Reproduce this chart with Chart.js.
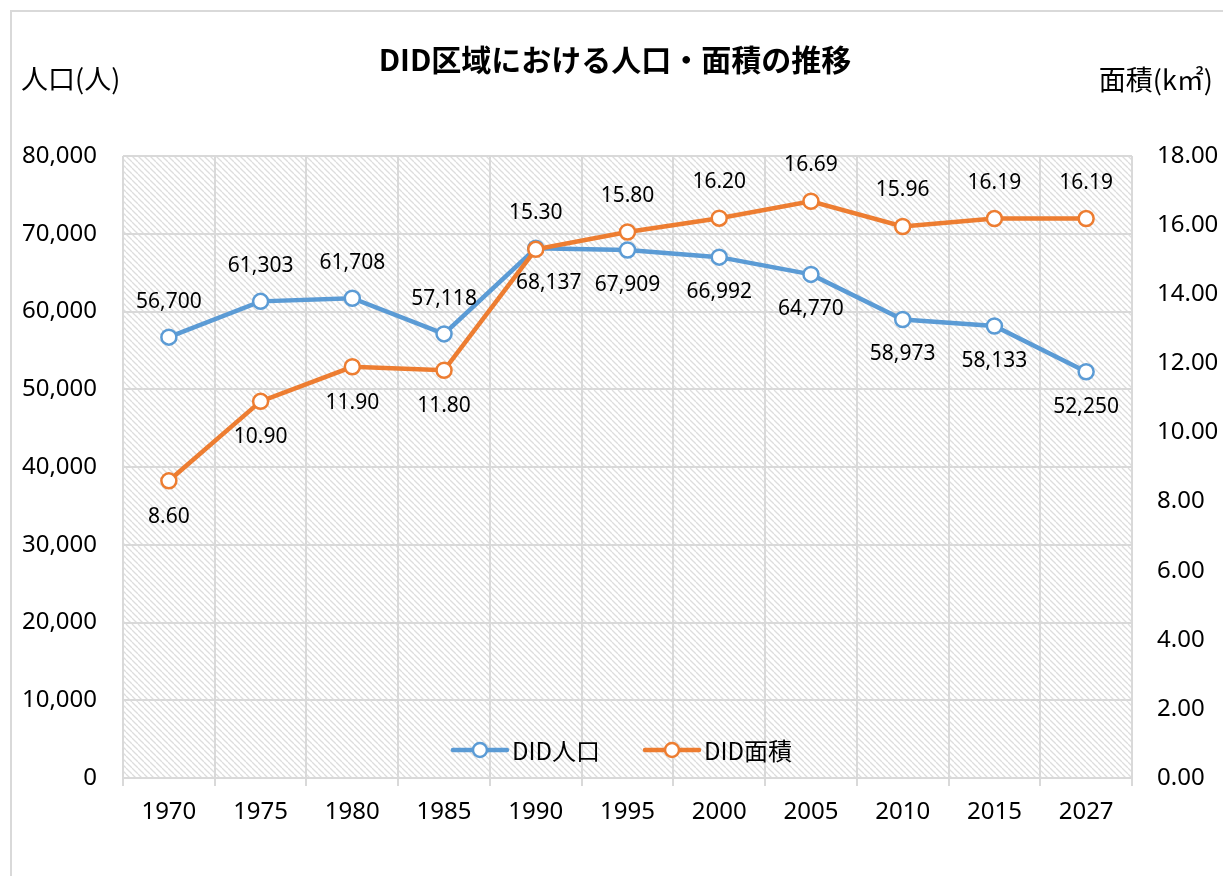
<!DOCTYPE html>
<html>
<head>
<meta charset="utf-8">
<script src="https://cdn.jsdelivr.net/npm/chart.js@4.4.1/dist/chart.umd.min.js"></script>
<style>
  html, body { margin: 0; padding: 0; background: #fff; }
  #wrap { position: relative; width: 1223px; height: 876px; }
</style>
</head>
<body>
<div id="wrap"><canvas id="c" width="1223" height="876"></canvas></div>
<script>
// ---- data ----
const years = ['1970', '1975', '1980', '1985', '1990', '1995', '2000', '2005', '2010', '2015', '2027'];
const popValues = [56700, 61303, 61708, 57118, 68137, 67909, 66992, 64770, 58973, 58133, 52250];
const areaValues = [8.60, 10.90, 11.90, 11.80, 15.30, 15.80, 16.20, 16.69, 15.96, 16.19, 16.19];
const popLabel = 'DID人口';
const areaLabel = 'DID面積';
const chartTitle = 'DID区域における人口・面積の推移';
const leftAxisTitle = '人口(人)';
const rightAxisTitle = '面積(k㎡)';

// label placement (style)
const popLabelSide = [-1, -1, -1, -1, 1, 1, 1, 1, 1, 1, 1];
const popLabelDx = [0, 0, 0, 0, 13, 0, 0, 0, 0, 0, 0];
const areaLabelSide = [1, 1, 1, 1, -1, -1, -1, -1, -1, -1, -1];

const BLUE = '#5B9BD5';
const ORANGE = '#ED7D31';
const LATIN = '"Noto Sans", "Open Sans", "Noto Sans CJK JP", sans-serif';
const CJK = '"Noto Sans CJK JP", "Noto Sans", sans-serif';

// hatch pattern
function makePattern(ctx) {
  const n = 6;
  const pc = document.createElement('canvas');
  pc.width = n; pc.height = n;
  const p = pc.getContext('2d');
  p.fillStyle = '#ffffff';
  p.fillRect(0, 0, n, n);
  p.strokeStyle = '#dddddd';
  p.lineWidth = 1.3;
  for (const x0 of [-n, 0, n]) {
    p.beginPath();
    p.moveTo(x0, 0);
    p.lineTo(x0 + n, n);
    p.stroke();
  }
  return ctx.createPattern(pc, 'repeat');
}

const bgPlugin = {
  id: 'bg',
  beforeDraw(chart) {
    const ctx = chart.ctx;
    const a = chart.chartArea;
    ctx.save();
    ctx.fillStyle = '#fff';
    ctx.fillRect(0, 0, chart.width, chart.height);
    // outer frame
    ctx.strokeStyle = '#d9d9d9';
    ctx.lineWidth = 2;
    ctx.strokeRect(11, 11, 1400, 1000);
    // hatched plot area
    ctx.fillStyle = makePattern(ctx);
    ctx.fillRect(a.left, a.top, a.right - a.left, a.bottom - a.top);
    // title
    ctx.fillStyle = '#000';
    ctx.textAlign = 'center';
    ctx.textBaseline = 'middle';
    ctx.font = 'bold 30px ' + CJK;
    ctx.fillText(chartTitle, 615, 60);
    // axis titles
    ctx.font = '27px ' + CJK;
    ctx.textAlign = 'left';
    ctx.fillText(leftAxisTitle, 21, 79);
    ctx.textAlign = 'right';
    ctx.fillText(rightAxisTitle, 1213, 80);
    ctx.restore();
  }
};

const labelPlugin = {
  id: 'labels',
  afterDatasetsDraw(chart) {
    const ctx = chart.ctx;
    ctx.save();
    ctx.font = '21px ' + LATIN;
    ctx.fillStyle = '#000';
    ctx.textAlign = 'center';
    ctx.textBaseline = 'middle';
    const metaPop = chart.getDatasetMeta(0);
    const metaArea = chart.getDatasetMeta(1);
    metaPop.data.forEach((pt, i) => {
      const txt = popValues[i].toLocaleString('en-US');
      ctx.fillText(txt, pt.x + popLabelDx[i], pt.y + popLabelSide[i] * 35);
    });
    metaArea.data.forEach((pt, i) => {
      const txt = areaValues[i].toFixed(2);
      ctx.fillText(txt, pt.x, pt.y + areaLabelSide[i] * 36);
    });
    // legend
    const items = [[popLabel, BLUE], [areaLabel, ORANGE]];
    ctx.font = '24px ' + CJK;
    ctx.textAlign = 'left';
    const markW = 54, gapText = 5, gapItem = 45;
    let total = 0;
    const widths = items.map(it => ctx.measureText(it[0]).width);
    widths.forEach((w, i) => { total += markW + gapText + w + (i ? gapItem : 0); });
    const a = chart.chartArea;
    let x = (a.left + a.right) / 2 - total / 2 - 5;
    const y = 750;
    items.forEach((it, i) => {
      ctx.strokeStyle = it[1];
      ctx.lineWidth = 4.5;
      ctx.lineCap = 'round';
      ctx.beginPath();
      ctx.moveTo(x, y); ctx.lineTo(x + markW, y);
      ctx.stroke();
      ctx.beginPath();
      ctx.arc(x + markW / 2, y, 7, 0, Math.PI * 2);
      ctx.fillStyle = '#fff';
      ctx.fill();
      ctx.lineWidth = 2.5;
      ctx.stroke();
      ctx.fillStyle = '#000';
      ctx.fillText(it[0], x + markW + gapText, y + 1);
      x += markW + gapText + widths[i] + gapItem;
    });
    ctx.restore();
  }
};

new Chart(document.getElementById('c'), {
  type: 'line',
  data: {
    labels: years,
    datasets: [
      {
        label: popLabel,
        data: popValues,
        yAxisID: 'y',
        borderColor: BLUE,
        backgroundColor: '#fff',
        pointBackgroundColor: '#fff',
        pointBorderColor: BLUE,
        borderWidth: 4.5,
        pointRadius: 7.5,
        pointBorderWidth: 2.5,
        tension: 0,
        order: 2
      },
      {
        label: areaLabel,
        data: areaValues,
        yAxisID: 'y1',
        borderColor: ORANGE,
        backgroundColor: '#fff',
        pointBackgroundColor: '#fff',
        pointBorderColor: ORANGE,
        borderWidth: 4.5,
        pointRadius: 7.5,
        pointBorderWidth: 2.5,
        tension: 0,
        order: 1
      }
    ]
  },
  options: {
    responsive: false,
    animation: false,
    layout: { padding: { top: 156, left: 0, right: 0, bottom: 0 } },
    plugins: {
      legend: { display: false },
      title: { display: false },
      tooltip: { enabled: false }
    },
    scales: {
      x: {
        offset: true,
        grid: { offset: true, color: '#d9d9d9', lineWidth: 2, drawTicks: true, tickLength: 8 },
        border: { display: false },
        ticks: { color: '#000', font: { size: 24, family: LATIN }, padding: 12, maxRotation: 0 },
        afterFit(s) { s.height = 876 - 778; }
      },
      y: {
        position: 'left',
        min: 0, max: 80000,
        grid: { color: '#d9d9d9', lineWidth: 2, drawTicks: false },
        border: { display: false },
        ticks: {
          stepSize: 10000, color: '#000', padding: 26,
          font: { size: 24, family: LATIN },
          callback: v => v.toLocaleString('en-US')
        },
        afterFit(s) { s.width = 123; }
      },
      y1: {
        position: 'right',
        min: 0, max: 18,
        grid: { display: false, drawTicks: false },
        border: { display: false },
        ticks: {
          stepSize: 2, color: '#000', padding: 25,
          font: { size: 24, family: LATIN },
          callback: v => Number(v).toFixed(2)
        },
        afterFit(s) { s.width = 1223 - 1132; }
      }
    }
  },
  plugins: [bgPlugin, labelPlugin]
});
</script>
</body>
</html>
